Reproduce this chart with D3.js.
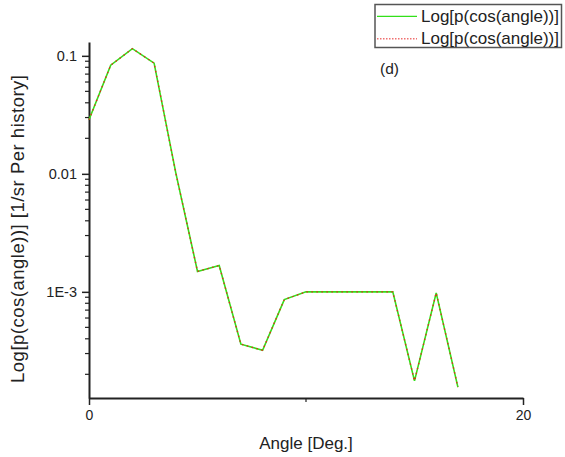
<!DOCTYPE html>
<html>
<head>
<meta charset="utf-8">
<script src="https://cdn.jsdelivr.net/npm/d3@7"></script>
<style>
  html, body { margin: 0; padding: 0; background: #fff; }
  svg { display: block; font-family: "Liberation Sans", Arial, sans-serif; }
</style>
</head>
<body>
<svg id="chart" width="565" height="457"></svg>
<script>
// Angular distribution, log-scaled probability per angle bin
const angles = [0, 1, 2, 3, 4, 5, 6, 7, 8, 9, 10, 11, 12, 13, 14, 15, 16, 17];
const probA = [0.0287, 0.0834, 0.115, 0.0867, 0.0102, 0.00149, 0.00167, 0.00036, 0.00032, 0.00086,
               0.001, 0.001, 0.001, 0.001, 0.001, 0.000176, 0.00098, 0.000156];
const probB = probA.slice();
const seriesNames = ["Log[p(cos(angle))]", "Log[p(cos(angle))]"];
const xTicks = [0, 20];
const xMinorTicks = [10];
const yTicks = [0.1, 0.01, 0.001];
const yTickLabels = ["0.1", "0.01", "1E-3"];
const xDomain = [0, 20];
const yDomain = [1.26e-4, 0.131];

const svg = d3.select("#chart");
const plotLeft = 89, plotRight = 523, plotTop = 42, plotBottom = 398;
const ink = "#222";

const x = d3.scaleLinear().domain(xDomain).range([plotLeft, plotRight]);
const y = d3.scaleLog().domain(yDomain).range([plotBottom, plotTop]);

// minor ticks for the log axis: 2..9 times each decade
const yMinor = [];
[1e-4, 1e-3, 1e-2, 1e-1].forEach(d => {
  for (let k = 2; k <= 9; k++) {
    const v = d * k;
    if (v >= yDomain[0] && v <= yDomain[1]) yMinor.push(v);
  }
});

// Y axis
const yAxis = svg.append("g").attr("transform", `translate(${plotLeft},0)`)
  .call(d3.axisLeft(y).tickValues(yTicks).tickFormat((d, i) => yTickLabels[i]).tickSize(7).tickSizeOuter(0));
yAxis.select(".domain").attr("stroke", ink).attr("stroke-width", 2);
yAxis.selectAll(".tick line").attr("stroke", ink).attr("stroke-width", 1.5);
yAxis.selectAll(".tick text").attr("font-size", 14.5).attr("fill", ink).attr("x", -12)
  .attr("font-family", "Liberation Sans, Arial, sans-serif");
yAxis.selectAll(".minor").data(yMinor).enter().append("line").attr("class", "minor")
  .attr("x1", 0).attr("x2", -4).attr("y1", d => y(d)).attr("y2", d => y(d))
  .attr("stroke", ink).attr("stroke-width", 1.2);

// X axis
const xAxis = svg.append("g").attr("transform", `translate(0,${plotBottom})`)
  .call(d3.axisBottom(x).tickValues(xTicks).tickFormat(d3.format("d")).tickSize(7).tickSizeOuter(0));
xAxis.select(".domain").attr("stroke", ink).attr("stroke-width", 2);
xAxis.selectAll(".tick line").attr("stroke", ink).attr("stroke-width", 1.5);
xAxis.selectAll(".tick text").attr("font-size", 14).attr("fill", ink).attr("y", 12)
  .attr("font-family", "Liberation Sans, Arial, sans-serif");
xAxis.selectAll(".minor").data(xMinorTicks).enter().append("line").attr("class", "minor")
  .attr("x1", d => x(d)).attr("x2", d => x(d)).attr("y1", 0).attr("y2", 4)
  .attr("stroke", ink).attr("stroke-width", 1.2);

// Axis titles
svg.append("text").attr("x", 306).attr("y", 449)
  .attr("text-anchor", "middle").attr("font-size", 17).attr("fill", ink).text("Angle [Deg.]");
svg.append("text").attr("transform", "translate(24,229) rotate(-90)")
  .attr("text-anchor", "middle").attr("font-size", 18.5).attr("fill", ink)
  .attr("textLength", 308).attr("lengthAdjust", "spacing")
  .text("Log[p(cos(angle))] [1/sr Per history]");

// Series lines
const line = (vals) => d3.line().x((d, i) => x(angles[i])).y(d => y(d))(vals);
svg.append("path").attr("d", line(probA)).attr("fill", "none")
  .attr("stroke", "#33e01a").attr("stroke-width", 1.6);
svg.append("path").attr("d", line(probB)).attr("fill", "none")
  .attr("stroke", "#e8251a").attr("stroke-width", 1.3).attr("stroke-dasharray", "1.5,3.5");

// Panel label
svg.append("text").attr("x", 380).attr("y", 74).attr("font-size", 15.5).attr("fill", ink).text("(d)");

// Legend
const lg = svg.append("g");
lg.append("rect").attr("x", 375).attr("y", 4.5).attr("width", 186.5).attr("height", 43)
  .attr("fill", "#fff").attr("stroke", "#555").attr("stroke-width", 1.5);
const styles = [
  { stroke: "#33e01a", width: 1.2, dash: null },
  { stroke: "#f07070", width: 1.6, dash: "1.5,1.5" }
];
seriesNames.forEach((name, i) => {
  const cy = 16.3 + i * 22.5;
  lg.append("line").attr("x1", 377).attr("x2", 417).attr("y1", cy).attr("y2", cy)
    .attr("stroke", styles[i].stroke).attr("stroke-width", styles[i].width)
    .attr("stroke-dasharray", styles[i].dash);
  lg.append("text").attr("x", 421).attr("y", cy + 5.5).attr("font-size", 17).attr("fill", ink).text(name);
});
</script>
</body>
</html>
